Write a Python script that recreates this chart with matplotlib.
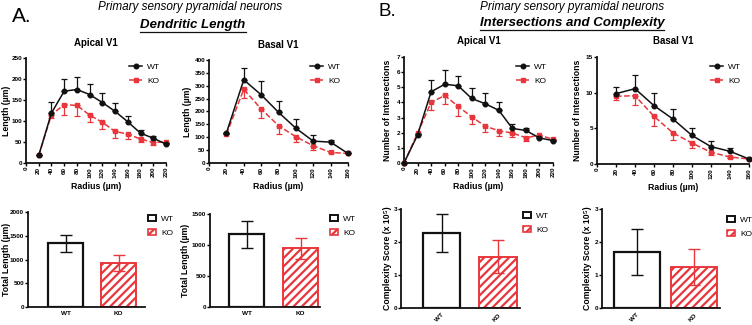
import numpy as np
import matplotlib
matplotlib.use("Agg")
import matplotlib.pyplot as plt
from matplotlib.patches import Patch
from matplotlib.lines import Line2D

plt.rcParams["font.family"] = ["Liberation Sans", "DejaVu Sans"]
plt.rcParams["hatch.linewidth"] = 1.6

W, H = 752, 325
RED = "#e8373c"
BLK = "#111111"

# --- dendritic length, apical (um)
r_apical = [20, 40, 60, 80, 100, 120, 140, 160, 180, 200, 220]
len_ap_wt = [18, 119, 171, 175, 163, 144, 123, 98, 71, 59, 45]
len_ap_wt_err = [0, 26, 30, 30, 26, 23, 20, 15, 8, 5, 3]
len_ap_ko = [18, 115, 139, 137, 114, 97, 75, 69, 57, 49, 50]
len_ap_ko_err = [0, 8, 24, 25, 17, 16, 16, 11, 8, 6, 3]

# --- dendritic length, basal (um)
r_basal = [20, 40, 60, 80, 100, 120, 140, 160]
len_ba_wt = [116, 323, 265, 197, 135, 85, 81, 37]
len_ba_wt_err = [0, 45, 54, 44, 37, 25, 9, 0]
len_ba_ko = [111, 286, 210, 145, 102, 67, 41, 37]
len_ba_ko_err = [0, 34, 36, 31, 22, 15, 4, 0]

# --- intersections, apical (starts from origin)
r_int_apical = [0, 20, 40, 60, 80, 100, 120, 140, 160, 180, 200, 220]
int_ap_wt = [0, 1.85, 4.7, 5.2, 5.1, 4.26, 3.91, 3.48, 2.28, 2.15, 1.65, 1.48]
int_ap_wt_err = [0, 0.05, 0.78, 0.97, 0.64, 0.67, 0.7, 0.54, 0.31, 0.17, 0.05, 0.05]
int_ap_ko = [0, 1.96, 4.0, 4.46, 3.74, 3.04, 2.43, 2.13, 1.98, 1.67, 1.83, 1.57]
int_ap_ko_err = [0, 0.05, 0.48, 0.57, 0.65, 0.45, 0.39, 0.35, 0.24, 0.21, 0.08, 0.05]

# --- intersections, basal
int_ba_wt = [9.86, 10.56, 8.18, 6.3, 4.0, 2.43, 1.78, 0.7]
int_ba_wt_err = [0.93, 1.96, 1.77, 1.4, 1.05, 0.75, 0.5, 0]
int_ba_ko = [9.49, 9.58, 6.68, 4.35, 2.94, 1.64, 0.98, 0.7]
int_ba_ko_err = [0.5, 1.26, 1.4, 0.94, 0.7, 0.33, 0.1, 0]

# --- totals
groups = ["WT", "KO"]
total_ap = [1340, 930]
total_ap_err = [185, 170]
total_ba = [1170, 947]
total_ba_err = [215, 170]
cplx_ap = [2.27, 1.56]
cplx_ap_err = [0.57, 0.49]
cplx_ba = [1.69, 1.24]
cplx_ba_err = [0.70, 0.54]

fig = plt.figure(figsize=(W / 100, H / 100), dpi=100)


def px_axes(x0, y0, x1, y1):
    return fig.add_axes([x0 / W, 1 - y1 / H, (x1 - x0) / W, (y1 - y0) / H])


def style(ax):
    for s in ["top", "right"]:
        ax.spines[s].set_visible(False)
    for s in ["left", "bottom"]:
        ax.spines[s].set_linewidth(1.3)
        ax.spines[s].set_color(BLK)
    ax.tick_params(width=1.0, length=2, labelsize=4.6, pad=0.8)
    for lab in ax.get_xticklabels() + ax.get_yticklabels():
        lab.set_fontweight("bold")


def put_ylabel(ax, box, text, xr):
    # xr: right edge of the rotated label, in pixels
    ax.set_ylabel(text, fontsize=6.3, fontweight="bold")
    ax.yaxis.set_label_coords((xr - box[0]) / (box[2] - box[0]), 0.5)


def fig_legend(ax, handles, labels, x, y, hl=1.6):
    ax.legend(handles, labels, loc="upper left", bbox_to_anchor=(x / W, 1 - y / H),
              bbox_transform=fig.transFigure, frameon=False, fontsize=6,
              handlelength=hl, handletextpad=0.6, labelspacing=0.75, borderpad=0,
              borderaxespad=0)


def line_panel(box, x_wt, wt, wt_err, x_ko, ko, ko_err, xmax, ymax, ystep, ylabel, ylab_x, title, leg_xy):
    ax = px_axes(*box)
    z = np.zeros(len(wt))
    ax.errorbar(x_ko, ko, yerr=[ko_err, np.zeros(len(ko))], color=RED, ls="--", lw=1.1,
                marker="s", ms=3.3, capsize=2, elinewidth=0.9, capthick=0.9, clip_on=False, zorder=3)
    ax.errorbar(x_wt, wt, yerr=[z, wt_err], color=BLK, ls="-", lw=1.1,
                marker="o", ms=3.3, capsize=2, elinewidth=0.9, capthick=0.9, clip_on=False, zorder=4)
    ax.set_xlim(0, xmax)
    ax.set_ylim(0, ymax)
    ax.set_xticks(np.arange(0, xmax + 1, 20))
    ax.set_yticks(np.arange(0, ymax + 0.01, ystep))
    ax.tick_params(axis="x", labelrotation=90)
    ax.set_xlabel("Radius (µm)", fontsize=6.3, fontweight="bold", labelpad=3)
    put_ylabel(ax, box, ylabel, ylab_x)
    ax.set_title(title, fontsize=7, fontweight="bold", pad=9)
    style(ax)
    h_wt = Line2D([], [], color=BLK, ls="-", lw=1.1, marker="o", ms=3.3)
    h_ko = Line2D([], [], color=RED, ls="--", lw=1.1, marker="s", ms=3.3)
    fig_legend(ax, [h_wt, h_ko], groups, *leg_xy)
    return ax


def bar_panel(box, vals, errs, xlim, width, ymax, ystep, ylabel, ylab_x, rot, leg_xy):
    ax = px_axes(*box)
    x = np.arange(len(vals))
    ax.bar(x[0], vals[0], width, color="white", edgecolor=BLK, lw=1.6, zorder=2)
    ax.bar(x[1], vals[1], width, color="white", edgecolor=RED, lw=1.4, hatch="////", zorder=2)
    ax.errorbar(x[0], vals[0], yerr=errs[0], color=BLK, capsize=4, elinewidth=1.0, capthick=1.0, zorder=3)
    ax.errorbar(x[1], vals[1], yerr=errs[1], color=RED, capsize=4, elinewidth=1.0, capthick=1.0, zorder=3)
    ax.set_xlim(*xlim)
    ax.set_ylim(0, ymax)
    ax.set_yticks(np.arange(0, ymax + 0.01, ystep))
    ax.set_xticks(x)
    ax.set_xticklabels(groups, rotation=rot, ha="center" if rot == 0 else "right",
                       rotation_mode="anchor" if rot else "default")
    put_ylabel(ax, box, ylabel, ylab_x)
    style(ax)
    ax.tick_params(axis="x", length=0, pad=3)
    h_wt = Patch(facecolor="white", edgecolor=BLK, lw=1.4)
    h_ko = Patch(facecolor="white", edgecolor=RED, lw=1.2, hatch="////")
    fig_legend(ax, [h_wt, h_ko], groups, *leg_xy, hl=1.0)
    return ax


line_panel((26, 58, 166, 163), r_apical, len_ap_wt, len_ap_wt_err, r_apical, len_ap_ko, len_ap_ko_err,
           220, 250, 50, "Length (µm)", 11, "Apical V1", (129, 63))
line_panel((209, 60, 348, 163), r_basal, len_ba_wt, len_ba_wt_err, r_basal, len_ba_ko, len_ba_ko_err,
           160, 400, 50, "Length (µm)", 192, "Basal V1", (310, 63))
line_panel((404, 57, 553, 163), r_int_apical, int_ap_wt, int_ap_wt_err, r_int_apical, int_ap_ko, int_ap_ko_err,
           220, 7, 1, "Number of Intersections", 392, "Apical V1", (516, 63))
line_panel((597, 57, 749, 164), r_basal, int_ba_wt, int_ba_wt_err, r_basal, int_ba_ko, int_ba_ko_err,
           160, 15, 5, "Number of Intersections", 582, "Basal V1", (710, 63))

bar_panel((28, 212, 145, 307), total_ap, total_ap_err, (-0.71, 1.5), 0.66, 2000, 500,
          "Total Length (µm)", 11, 0, (148, 215))
bar_panel((210, 214, 320, 307), total_ba, total_ba_err, (-0.68, 1.36), 0.65, 1500, 500,
          "Total Length (µm)", 190, 0, (330, 215))
bar_panel((401, 209, 520, 308), cplx_ap, cplx_ap_err, (-0.72, 1.39), 0.66, 3, 1,
          "Complexity Score (x 10⁵)", 392, 45, (523, 212))
bar_panel((602, 209, 720, 308), cplx_ba, cplx_ba_err, (-0.6, 1.45), 0.8, 3, 1,
          "Complexity Score (x 10⁵)", 592, 45, (727, 216))

# headings
fig.text(12 / W, 1 - 17 / H, "A.", fontsize=15, va="center", ha="left")
fig.text(378 / W, 1 - 12 / H, "B.", fontsize=13.5, va="center", ha="left")
fig.text(190 / W, 1 - 7 / H, "Primary sensory pyramidal neurons", fontsize=8.5, style="italic",
         ha="center", va="center")
fig.text(572 / W, 1 - 7 / H, "Primary sensory pyramidal neurons", fontsize=8.5, style="italic",
         ha="center", va="center")
t1 = fig.text(193 / W, 1 - 25 / H, "Dendritic Length", fontsize=9.5, style="italic", fontweight="bold",
              ha="center", va="center")
t2 = fig.text(572 / W, 1 - 23 / H, "Intersections and Complexity", fontsize=9.5, style="italic",
              fontweight="bold", ha="center", va="center")

# underline the bold headings
renderer = fig.canvas.get_renderer()
for t in (t1, t2):
    bb = t.get_window_extent(renderer)
    y = (bb.y0 - 1) / H
    fig.add_artist(Line2D([bb.x0 / W, bb.x1 / W], [y, y], color=BLK, lw=0.9, transform=fig.transFigure))

fig.savefig("out.png", dpi=100)
